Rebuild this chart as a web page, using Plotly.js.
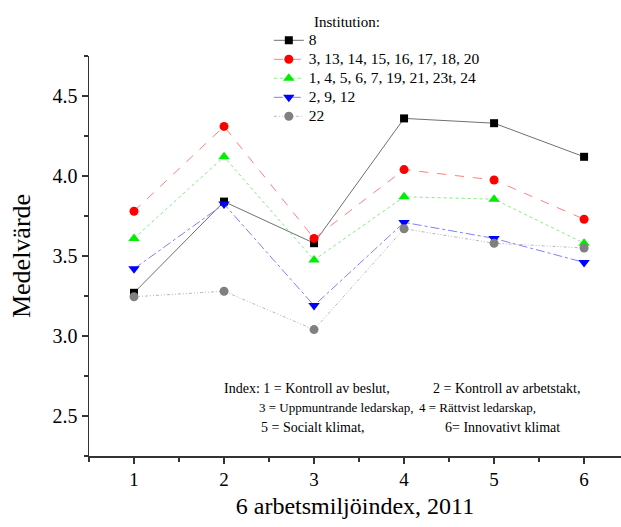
<!DOCTYPE html>
<html>
<head>
<meta charset="utf-8">
<script src="https://cdn.plot.ly/plotly-3.0.1.min.js"></script>
<style>html,body{margin:0;padding:0;background:#fff;}</style>
</head>
<body>
<div id="chart" style="width:621px;height:527px;"></div>
<script>
const indexes = [1, 2, 3, 4, 5, 6];
const seriesNames = ["8", "3, 13, 14, 15, 16, 17, 18, 20", "1, 4, 5, 6, 7, 19, 21, 23t, 24", "2, 9, 12", "22"];
const inst8 = [3.27, 3.84, 3.58, 4.36, 4.33, 4.12];
const instGroupA = [3.78, 4.31, 3.61, 4.04, 3.975, 3.73];
const instGroupB = [3.61, 4.12, 3.475, 3.87, 3.855, 3.58];
const instGroupC = [3.42, 3.825, 3.19, 3.71, 3.61, 3.46];
const inst22 = [3.245, 3.28, 3.04, 3.67, 3.58, 3.55];
const indexLabels = [
  "Index: 1 = Kontroll av beslut,", "2 = Kontroll av arbetstakt,",
  "3 = Uppmuntrande ledarskap,", "4 = Rättvist ledarskap,",
  "5 = Socialt klimat,", "6= Innovativt klimat"
];

const font = "Liberation Serif, Times New Roman, serif";
const styles = [
  {mc: "#000000", lc: "#707070", dash: "solid", sym: "square", size: 8},
  {mc: "#ff0000", lc: "#ff8080", dash: "dash", sym: "circle", size: 9},
  {mc: "#00ee00", lc: "#80f080", dash: "dot", sym: "triangle-up", size: 10},
  {mc: "#0000ff", lc: "#8080ff", dash: "dashdot", sym: "triangle-down", size: 10},
  {mc: "#808080", lc: "#b8b8b8", dash: "3px,2px,1px,2px,1px,2px", sym: "circle", size: 9}
];
const allY = [inst8, instGroupA, instGroupB, instGroupC, inst22];

const traces = allY.map((y, i) => ({
  type: "scatter", mode: "lines+markers",
  x: indexes, y: y,
  name: '<span style="font-size:15.5px">' + seriesNames[i] + '</span>',
  line: {color: styles[i].lc, width: 1, dash: styles[i].dash},
  marker: {color: styles[i].mc, symbol: styles[i].sym, size: styles[i].size}
}));

const annPos = [
  {x: 222, y: 388, s: 14}, {x: 431, y: 388, s: 14},
  {x: 257, y: 407, s: 13}, {x: 417, y: 407, s: 13},
  {x: 259, y: 427, s: 14}, {x: 443, y: 427, s: 14}
];
const W = 621, H = 527;
const annotations = indexLabels.map((t, i) => ({
  text: t, xref: "paper", yref: "paper",
  x: (annPos[i].x - 89) / (W - 89), y: (H - 71 - annPos[i].y) / (H - 127),
  xanchor: "left", yanchor: "middle", showarrow: false,
  font: {family: font, size: annPos[i].s, color: "#000"}
}));
annotations.push({
  text: "Institution:", xref: "paper", yref: "paper",
  x: (312 - 89) / (W - 89), y: (H - 71 - 22) / (H - 127),
  xanchor: "left", yanchor: "middle", showarrow: false,
  font: {family: font, size: 15, color: "#000"}
});

const layout = {
  width: W, height: H,
  margin: {l: 89, r: 0, t: 56, b: 71},
  paper_bgcolor: "#fff", plot_bgcolor: "#fff",
  font: {family: font, color: "#000"},
  showlegend: true,
  legend: {
    x: 0.338, y: 1.0755, xanchor: "left", yanchor: "top",
    font: {family: font, size: 12, color: "#000"},
    bgcolor: "rgba(0,0,0,0)", itemwidth: 30
  },
  xaxis: {
    range: [0.5, 6.41], tickvals: indexes, ticks: "outside", ticklen: 6, tickwidth: 1.2,
    tickcolor: "#333", showline: true, linecolor: "#333", linewidth: 1.5,
    showgrid: false, zeroline: false,
    tickfont: {family: font, size: 19, color: "#000"},
    minor: {dtick: 0.5, ticks: "outside", ticklen: 4, tickcolor: "#333", showgrid: false},
    title: {text: "6 arbetsmiljöindex, 2011", font: {family: font, size: 24, color: "#000"}, standoff: 8}
  },
  yaxis: {
    range: [2.25, 4.75], tickvals: [2.5, 3.0, 3.5, 4.0, 4.5], ticktext: ["2.5", "3.0", "3.5", "4.0", "4.5"],
    ticks: "outside", ticklen: 6, tickwidth: 1.2,
    tickcolor: "#333", showline: true, linecolor: "#333", linewidth: 1.5,
    showgrid: false, zeroline: false,
    tickfont: {family: font, size: 20, color: "#000"},
    minor: {dtick: 0.25, tick0: 2.25, ticks: "outside", ticklen: 4, tickcolor: "#333", showgrid: false},
    title: {text: "Medelvärde", font: {family: font, size: 26, color: "#000"}, standoff: 14}
  },
  annotations: annotations
};

Plotly.newPlot("chart", traces, layout, {displayModeBar: false, staticPlot: true});
</script>
</body>
</html>
